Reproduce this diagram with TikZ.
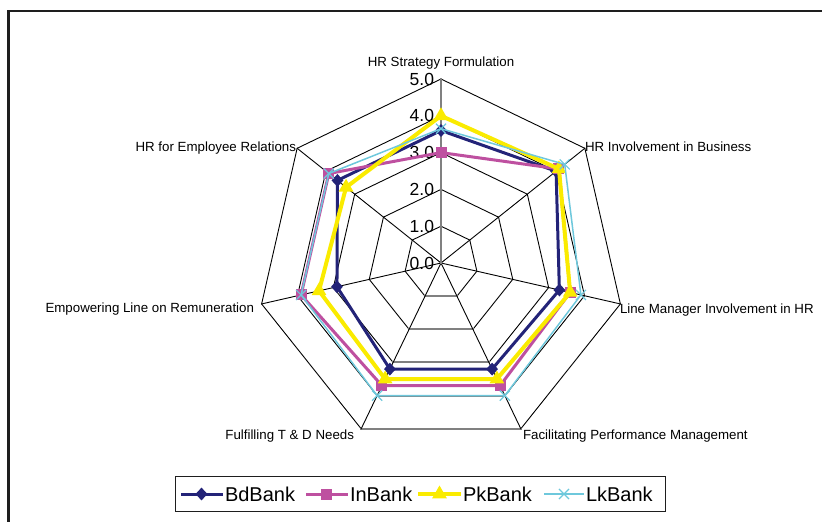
\documentclass[tikz,border=0pt]{standalone}
\usepackage{fontspec}
\setmainfont{Liberation Sans}
\usetikzlibrary{shapes.geometric,shapes.misc,calc}

\begin{document}
\begin{tikzpicture}[x=1pt,y=-1pt,line cap=rect,
    catlabel/.style={inner sep=0, outer sep=0, font=\fontsize{13.3pt}{13.3pt}\selectfont},
    ticklabel/.style={inner sep=0, outer sep=0, anchor=east, font=\fontsize{17.5pt}{17.5pt}\selectfont},
    keylabel/.style={inner sep=0, outer sep=0, anchor=west, font=\fontsize{20pt}{20pt}\selectfont},
    gridline/.style={line width=0.9pt, custcol_0_0_0},
    axisline/.style={line width=2pt, custcol_80_80_80},
    bdline/.style={line width=3pt, custcol_bd, line join=round},
    inline/.style={line width=3pt, custcol_in, line join=round},
    pkline/.style={line width=4pt, custcol_pk, line join=round},
    lkline/.style={line width=1.5pt, custcol_lk, line join=round},
    bdmark/.style={diamond, fill=custcol_bd, inner sep=0, minimum width=12pt, minimum height=13pt},
    inmark/.style={rectangle, fill=custcol_in, inner sep=0, minimum size=11pt},
    pkmark/.style={regular polygon, regular polygon sides=3, fill=custcol_pk, inner sep=0, minimum size=17pt},
    lkmark/.style={cross out, draw=custcol_lk, line width=1.2pt, inner sep=0, minimum size=8pt}]
    \definecolor{custcol_0_0_0}{RGB}{0, 0, 0}
    \definecolor{custcol_80_80_80}{RGB}{128, 128, 128}
    \definecolor{custcol_frame}{RGB}{30, 30, 30}
    \definecolor{custcol_bd}{RGB}{35, 35, 120}
    \definecolor{custcol_in}{RGB}{190, 80, 160}
    \definecolor{custcol_pk}{RGB}{250, 235, 0}
    \definecolor{custcol_lk}{RGB}{110, 200, 220}
    \def\bdvals{3.6,4.0,3.3,3.2,3.2,2.9,3.6}
    \def\invals{3.0,4.1,3.6,3.7,3.7,3.9,3.9}
    \def\pkvals{4.0,4.1,3.6,3.5,3.5,3.4,3.3}
    \def\lkvals{3.65,4.3,3.9,4.0,4.0,3.9,3.9}
    \useasboundingbox (0,0) rectangle (822,522);
    \draw [line width=2.5pt, custcol_frame] (8.5,522) -- (8.5,11) -- (822,11);
    \begin{scope}[shift={(441,263)}]
    \coordinate (ctr) at (0,0);
    % grid rings and spokes
    \foreach \r in {1,...,5} {
        \foreach \k in {0,...,6}
            \coordinate (g\r-\k) at ({-90+\k*360/7}:\r*36.8);
        \draw [gridline] (g\r-0) -- (g\r-1) -- (g\r-2) -- (g\r-3) -- (g\r-4) -- (g\r-5) -- (g\r-6) -- cycle;
        \draw [axisline] (g\r-3) -- (g\r-4);
    }
    \foreach \k in {1,...,6}
        \draw [gridline] (ctr) -- (g5-\k);
    \draw [axisline] (ctr) -- (g5-0);
    \node [ticklabel, xshift=-7pt] (t0) at (ctr) {0.0};
    \foreach \r in {1,...,5}
        \node [ticklabel, xshift=-7pt] (t\r) at (g\r-0) {\r.0};
    % series
    \foreach \v [count=\k from 0] in \bdvals
        \coordinate (bd\k) at ({-90+\k*360/7}:\v*36.8);
    \foreach \v [count=\k from 0] in \invals
        \coordinate (in\k) at ({-90+\k*360/7}:\v*36.8);
    \foreach \v [count=\k from 0] in \pkvals
        \coordinate (pk\k) at ({-90+\k*360/7}:\v*36.8);
    \foreach \v [count=\k from 0] in \lkvals
        \coordinate (lk\k) at ({-90+\k*360/7}:\v*36.8);
    \draw [bdline] (bd0) -- (bd1) -- (bd2) -- (bd3) -- (bd4) -- (bd5) -- (bd6) -- cycle;
    \foreach \k in {0,...,6}
        \node [bdmark] (bdm\k) at (bd\k) {};
    \draw [inline] (in0) -- (in1) -- (in2) -- (in3) -- (in4) -- (in5) -- (in6) -- cycle;
    \foreach \k in {0,...,6}
        \node [inmark] (inm\k) at (in\k) {};
    \draw [pkline] (pk0) -- (pk1) -- (pk2) -- (pk3) -- (pk4) -- (pk5) -- (pk6) -- cycle;
    \foreach \k in {0,...,6}
        \node [pkmark] (pkm\k) at (pk\k) {};
    \draw [lkline] (lk0) -- (lk1) -- (lk2) -- (lk3) -- (lk4) -- (lk5) -- (lk6) -- cycle;
    \foreach \k in {0,...,6}
        \node [lkmark] (lkm\k) at (lk\k) {};
    \end{scope}
    % category labels
    \node [catlabel, anchor=base] (cat0) at (441,66) {HR Strategy Formulation};
    \node [catlabel, anchor=base west] (cat1) at (585,151) {HR Involvement in Business};
    \node [catlabel, anchor=base west] (cat2) at (620,313) {Line Manager Involvement in HR};
    \node [catlabel, anchor=base west] (cat3) at (523,439) {Facilitating Performance Management};
    \node [catlabel, anchor=base east] (cat4) at (354,439) {Fulfilling T \& D Needs};
    \node [catlabel, anchor=base east] (cat5) at (254,312) {Empowering Line on Remuneration};
    \node [catlabel, anchor=base east] (cat6) at (296,151) {HR for Employee Relations};
    % legend
    \draw [line width=1pt, custcol_frame] (175,476) rectangle (665,511);
    \coordinate (kbd1) at (182,494); \coordinate (kbd2) at (221,494);
    \coordinate (kin1) at (307,494); \coordinate (kin2) at (346,494);
    \coordinate (kpk1) at (420,494); \coordinate (kpk2) at (459,494);
    \coordinate (klk1) at (545,494); \coordinate (klk2) at (583,494);
    \draw [bdline] (kbd1) -- (kbd2);
    \node [bdmark] (kbdm) at ($(kbd1)!0.5!(kbd2)$) {};
    \node [keylabel] (kbdt) at (225,494) {BdBank};
    \draw [inline] (kin1) -- (kin2);
    \node [inmark] (kinm) at ($(kin1)!0.5!(kin2)$) {};
    \node [keylabel] (kint) at (350,494) {InBank};
    \draw [pkline] (kpk1) -- (kpk2);
    \node [pkmark] (kpkm) at ($(kpk1)!0.5!(kpk2)$) {};
    \node [keylabel] (kpkt) at (463,494) {PkBank};
    \draw [lkline] (klk1) -- (klk2);
    \node [lkmark] (klkm) at ($(klk1)!0.5!(klk2)$) {};
    \node [keylabel] (klkt) at (586,494) {LkBank};
\end{tikzpicture}
\end{document}
